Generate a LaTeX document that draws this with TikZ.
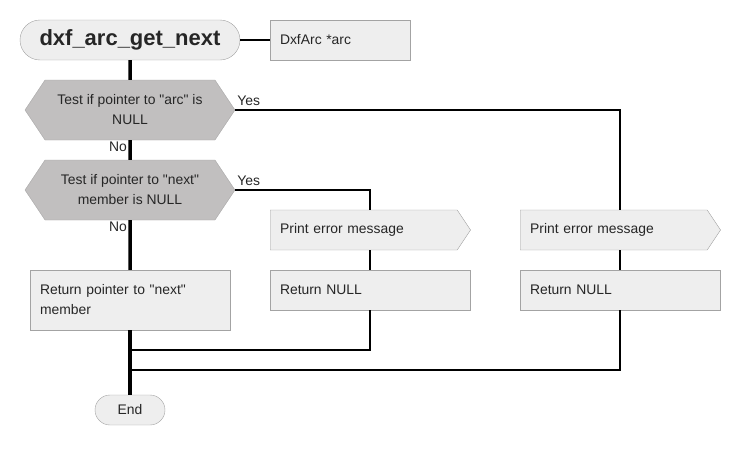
\documentclass[tikz,border=0pt]{standalone}
\usepackage{fontspec}
\setmainfont{Liberation Sans}
\usetikzlibrary{shapes.symbols,calc}
\definecolor{boxfill}{HTML}{EEEEEE}
\definecolor{boxline}{HTML}{A3A3A3}
\definecolor{testfill}{HTML}{C1BFBF}
\newcommand{\qt}[1]{\textquotedbl#1\textquotedbl}

\begin{document}
\begin{tikzpicture}[x=1pt,y=-1pt,
    every node/.style={font=\fontsize{13.9}{20}\selectfont, text=black!85},
    term/.style={draw=boxline, fill=boxfill, rounded corners=#1, inner sep=0pt},
    box/.style={draw=boxline, fill=boxfill, inner xsep=10pt, inner ysep=0pt, align=left},
    test/.style={signal, signal to=east and west, signal pointer angle=112.6,
        draw=boxline, fill=testfill, minimum width=210pt, minimum height=60pt,
        inner sep=0pt, align=center},
    flag/.style={signal, signal to=east, signal pointer angle=112.6,
        draw=boxline, fill=boxfill, minimum height=40pt, text width=167pt,
        inner xsep=10pt, inner ysep=0pt, align=left, anchor=west},
    main/.style={line width=3.5pt},
    conn/.style={line width=1.2pt},
    lbl/.style={inner sep=2pt}]
    \useasboundingbox (0,0) rectangle (740,450);
    % nodes
    \node[term=20pt, minimum width=220pt, minimum height=40pt,
        font=\bfseries\fontsize{22}{26}\selectfont] (start) at (130,40) {dxf\_arc\_get\_next};
    \node[box, minimum height=40pt, text width=120pt] (param) at (340,40) {DxfArc *arc};
    \node[test] (t1) at (130,110) {Test if pointer to \qt{arc} is\\NULL};
    \node[test] (t2) at (130,190) {Test if pointer to \qt{next}\\member is NULL};
    \node[box, minimum height=60pt, text width=180pt] (ret) at (130,300) {Return pointer to \qt{next}\\member};
    \node[flag] (err1) at (270,230) {Print error message};
    \node[box, minimum height=40pt, text width=180pt] (null1) at (370,290) {Return NULL};
    \node[flag] (err2) at (520,230) {Print error message};
    \node[box, minimum height=40pt, text width=180pt] (null2) at (620,290) {Return NULL};
    \node[term=15pt, minimum width=70pt, minimum height=30pt] (end) at (130,410) {End};
    \coordinate (j1) at (130,350);
    \coordinate (j2) at (130,370);
    % main line
    \draw[main] (start) -- (t1);
    \draw[main] (t1) -- (t2);
    \draw[main] (t2) -- (ret);
    \draw[main] (ret) -- (end);
    \draw[conn] (start) -- (param);
    % yes branches
    \draw[conn] (t1.east) -| (null2.north |- err2.north);
    \draw[conn] (t2.east) -| (null1.north |- err1.north);
    \draw[conn] (null1.north |- err1.south) -- (null1.north);
    \draw[conn] (null2.north |- err2.south) -- (null2.north);
    \draw[conn] (null1.south) |- (j1);
    \draw[conn] (null2.south) |- (j2);
    % labels
    \node[lbl, anchor=south west, yshift=2pt] (y1) at (t1.east) {Yes};
    \node[lbl, anchor=south west, yshift=2pt] (y2) at (t2.east) {Yes};
    \node[lbl, anchor=north east, xshift=-1pt] (n1) at (t1.south) {No};
    \node[lbl, anchor=north east, xshift=-1pt] (n2) at (t2.south) {No};
\end{tikzpicture}
\end{document}
